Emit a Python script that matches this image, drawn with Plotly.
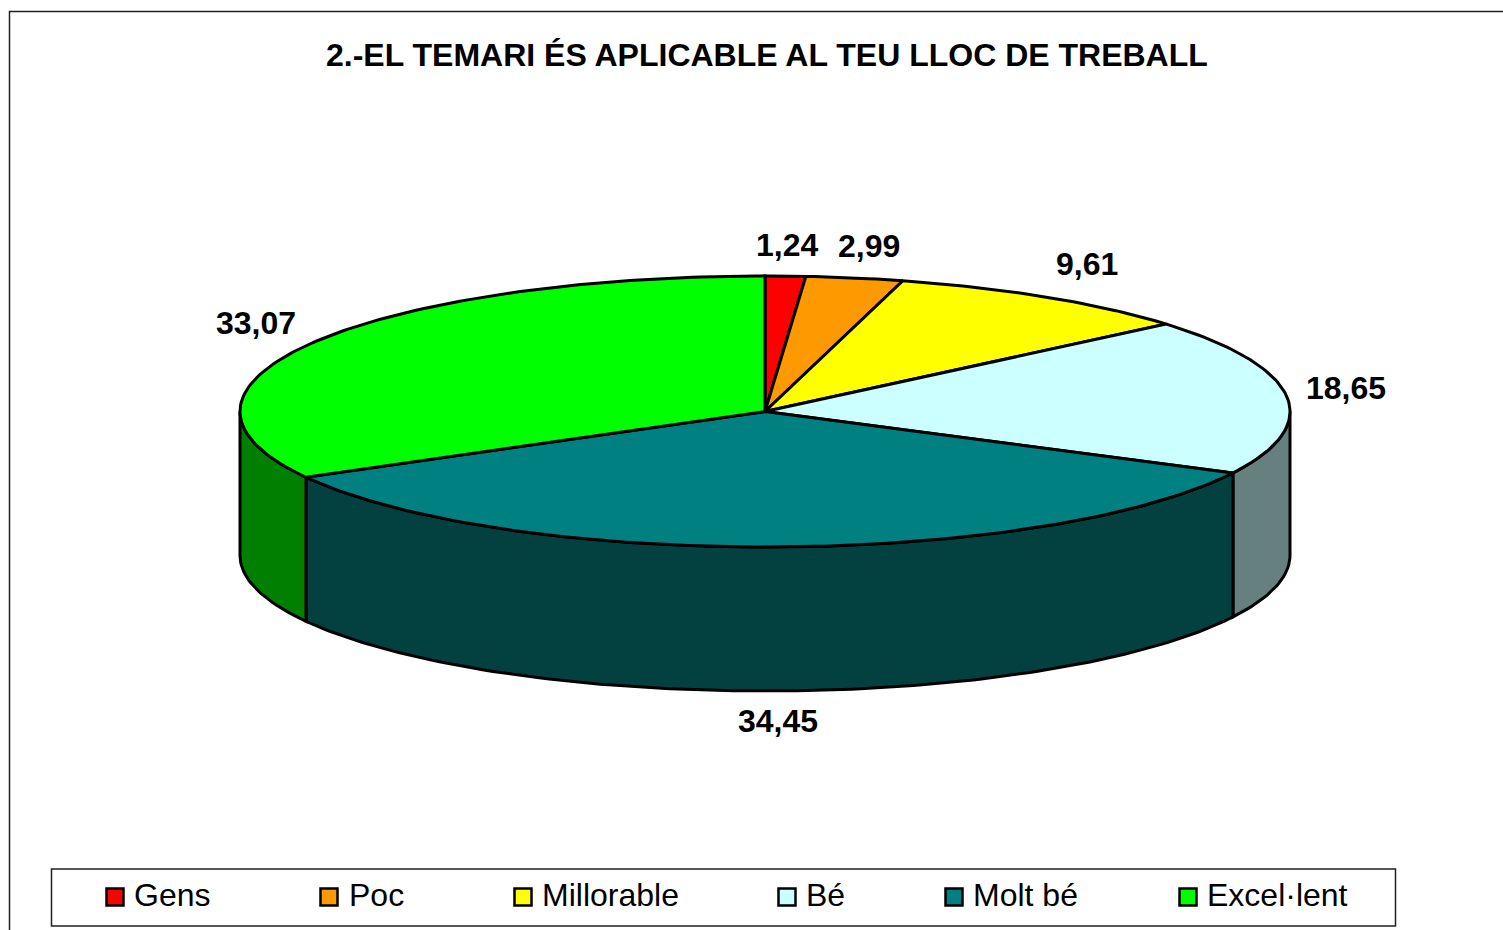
"""2.-EL TEMARI ÉS APLICABLE AL TEU LLOC DE TREBALL: pastís 3D dibuixat amb polígons."""

import numpy as np
import plotly.graph_objects as go

TITLE = "2.-EL TEMARI ÉS APLICABLE AL TEU LLOC DE TREBALL"
CATEGORIES = ["Gens", "Poc", "Millorable", "Bé", "Molt bé", "Excel·lent"]
VALUES = [1.24, 2.99, 9.61, 18.65, 34.45, 33.07]
VALUE_LABELS = ["1,24", "2,99", "9,61", "18,65", "34,45", "33,07"]

TOP_COLORS = ["#FF0000", "#FF9900", "#FFFF00", "#CCFFFF", "#008080", "#00FF00"]
SIDE_COLORS = ["#800000", "#804C00", "#808000", "#668080", "#034040", "#007F00"]

# geometria en píxels de la pàgina
W, H = 1503, 930
CX, CY, RX, RY, DEPTH = 765, 411.5, 525, 135.5, 144
LABEL_POS = [(787, 245), (869, 246), (1087, 264), (1346, 388), (778, 721), (256, 323)]
SWATCH_X = [115, 329, 523, 787, 954, 1188]
LEGEND_TEXT_X = [131.5, 346.5, 539.5, 803.5, 970.5, 1204.5]
LEGEND_Y = 897
FONT = "Liberation Sans, Arial, sans-serif"


def rim(a1, a2, dy=0.0):
    """Punts de la vora el·líptica entre dos angles (graus, 0 = dalt, sentit horari)."""
    n = max(2, int(abs(a2 - a1)) + 2)
    a = np.radians(np.linspace(a1, a2, n))
    return CX + RX * np.sin(a), CY - RY * np.cos(a) + dy


def polygon(x, y, color, name):
    return go.Scatter(x=x, y=y, mode="lines", fill="toself", fillcolor=color, name=name,
                      line=dict(color="#000000", width=3), hoverinfo="name", showlegend=False)


edges = np.concatenate([[0.0], np.cumsum(VALUES)]) * 360.0 / sum(VALUES)

fig = go.Figure()

# parets laterals: només la meitat frontal de l'el·lipse (90..270 graus)
for i, name in enumerate(CATEGORIES):
    a1, a2 = max(edges[i], 90.0), min(edges[i + 1], 270.0)
    if a2 <= a1:
        continue
    x_top, y_top = rim(a1, a2)
    x_bot, y_bot = rim(a2, a1, DEPTH)
    fig.add_trace(polygon(np.r_[x_top, x_bot, x_top[0]], np.r_[y_top, y_bot, y_top[0]],
                          SIDE_COLORS[i], name))

# cara superior
for i, name in enumerate(CATEGORIES):
    x_arc, y_arc = rim(edges[i], edges[i + 1])
    fig.add_trace(polygon(np.r_[CX, x_arc, CX], np.r_[CY, y_arc, CY], TOP_COLORS[i], name))

# llegenda
fig.add_trace(go.Scatter(x=SWATCH_X, y=[LEGEND_Y] * len(SWATCH_X), mode="markers", showlegend=False,
                         marker=dict(symbol="square", size=17, color=TOP_COLORS,
                                     line=dict(color="#000000", width=2.5)),
                         text=CATEGORIES, hoverinfo="text"))

for text, (x, y) in zip(VALUE_LABELS, LABEL_POS):
    fig.add_annotation(x=x, y=y, text=f"<b>{text}</b>", showarrow=False,
                       font=dict(family=FONT, size=32, color="#000000"))
for text, x in zip(CATEGORIES, LEGEND_TEXT_X):
    fig.add_annotation(x=x, y=LEGEND_Y - 2, text=text, showarrow=False, xanchor="left",
                       font=dict(family=FONT, size=32, color="#000000"))
fig.add_annotation(x=767, y=54.5, text=f"<b>{TITLE}</b>", showarrow=False,
                   font=dict(family=FONT, size=32, color="#000000"))

fig.update_layout(
    width=W, height=H, margin=dict(l=0, r=0, t=0, b=0),
    paper_bgcolor="#FFFFFF", plot_bgcolor="#FFFFFF", showlegend=False,
    xaxis=dict(range=[0, W], visible=False, fixedrange=True),
    yaxis=dict(range=[H, 0], visible=False, fixedrange=True),
    shapes=[
        dict(type="path", path=f"M 9.5 {H} L 9.5 11.5 L {W} 11.5",
             line=dict(color="#202020", width=1.5)),
        dict(type="rect", x0=51.5, y0=869, x1=1395.5, y1=926,
             line=dict(color="#202020", width=1.5)),
    ],
)

fig.write_html("out.html", config=dict(displayModeBar=False),
               post_script="document.body.style.margin='0';document.body.style.overflow='hidden';")
